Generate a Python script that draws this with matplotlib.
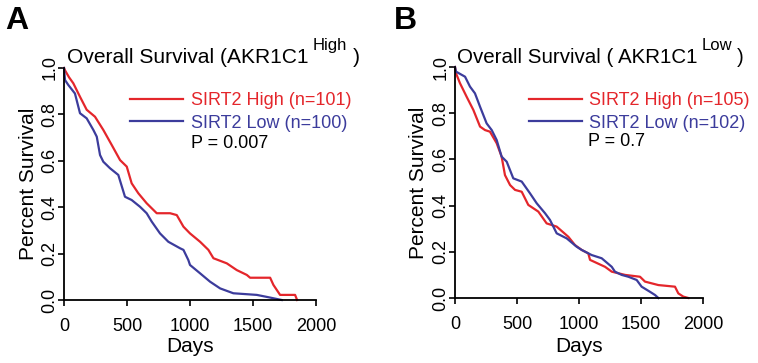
import matplotlib
matplotlib.use("Agg")
import matplotlib.pyplot as plt

plt.rcParams['font.family'] = ['Liberation Sans', 'DejaVu Sans']

RED = '#E4262B'
BLUE = '#3C3C9C'

# Panel A: AKR1C1 high
a_high_days = [0, 8, 40, 74, 127, 180, 246, 312, 379, 445, 498, 537, 590, 656, 736, 842, 895, 948,
               1000, 1080, 1146, 1186, 1292, 1371, 1451, 1477, 1636, 1662, 1715, 1834, 1850]
a_high_surv = [1.0, 0.99, 0.96, 0.934, 0.876, 0.82, 0.79, 0.733, 0.668, 0.603, 0.575, 0.503, 0.46,
               0.417, 0.374, 0.374, 0.366, 0.316, 0.287, 0.251, 0.216, 0.18, 0.158, 0.129, 0.108,
               0.096, 0.096, 0.065, 0.022, 0.022, 0.0]
a_low_days = [0, 8, 34, 87, 127, 180, 233, 260, 286, 312, 365, 431, 484, 537, 603, 656, 696, 762,
              828, 921, 948, 987, 1000, 1080, 1159, 1239, 1344, 1530, 1622, 1728]
a_low_surv = [1.0, 0.948, 0.927, 0.89, 0.805, 0.783, 0.733, 0.704, 0.625, 0.596, 0.568, 0.539,
              0.445, 0.431, 0.402, 0.374, 0.338, 0.287, 0.251, 0.223, 0.216, 0.172, 0.151, 0.115,
              0.079, 0.05, 0.029, 0.022, 0.012, 0.0]

# Panel B: AKR1C1 low
b_high_days = [0, 8, 40, 94, 148, 202, 242, 282, 336, 376, 403, 444, 484, 538, 591, 672, 739, 820,
               914, 968, 1022, 1075, 1089, 1210, 1264, 1371, 1492, 1532, 1640, 1774, 1801, 1841, 1882]
b_high_surv = [1.0, 0.973, 0.93, 0.871, 0.814, 0.742, 0.727, 0.72, 0.67, 0.612, 0.532, 0.489,
               0.468, 0.46, 0.403, 0.374, 0.323, 0.309, 0.265, 0.229, 0.208, 0.193, 0.165, 0.135,
               0.114, 0.1, 0.092, 0.071, 0.056, 0.049, 0.02, 0.006, 0.0]
b_low_days = [0, 8, 81, 121, 161, 202, 255, 296, 336, 376, 417, 470, 538, 605, 659, 726, 766, 820,
              901, 981, 1022, 1102, 1183, 1264, 1290, 1344, 1398, 1465, 1505, 1572, 1613, 1640]
b_low_surv = [1.0, 0.98, 0.958, 0.915, 0.886, 0.828, 0.756, 0.727, 0.684, 0.612, 0.59, 0.518,
              0.504, 0.453, 0.41, 0.367, 0.338, 0.28, 0.258, 0.222, 0.208, 0.186, 0.172, 0.135,
              0.114, 0.1, 0.092, 0.078, 0.049, 0.027, 0.013, 0.0]

x_ticks = [0, 500, 1000, 1500, 2000]
y_ticks = [0.0, 0.2, 0.4, 0.6, 0.8, 1.0]

W, H = 758, 363

panels = [
    dict(letter='A', rect=[64/W, 63/H, 252/W, 232/H],
         title=('Overall Survival (AKR1C1', 'High', ')'), title_x=(67, 310), close_gap=6,
         high=(a_high_days, a_high_surv), low=(a_low_days, a_low_surv),
         labels=('SIRT2 High (n=101)', 'SIRT2 Low (n=100)'), p='P = 0.007',
         letter_x=5, ylab_x=-0.103, xlab_y=-0.16, leg=(0.262, 0.81), p_x=0.502),
    dict(letter='B', rect=[455/W, 65/H, 248/W, 231/H],
         title=('Overall Survival ( AKR1C1', 'Low', ')'), title_x=(457, 698), close_gap=5,
         high=(b_high_days, b_high_surv), low=(b_low_days, b_low_surv),
         labels=('SIRT2 High (n=105)', 'SIRT2 Low (n=102)'), p='P = 0.7',
         letter_x=394, ylab_x=-0.109, xlab_y=-0.169, leg=(0.298, 0.805), p_x=0.536),
]

fig = plt.figure(figsize=(7.58, 3.63), dpi=100)
renderer = fig.canvas.get_renderer()

for pn in panels:
    ax = fig.add_axes(pn['rect'])
    ax.plot(*pn['high'], color=RED, lw=1.6, label=pn['labels'][0], clip_on=False)
    ax.plot(*pn['low'], color=BLUE, lw=1.6, label=pn['labels'][1], clip_on=False)
    ax.set_xlim(0, 2000)
    ax.set_ylim(0, 1.0)
    ax.set_xticks(x_ticks)
    ax.set_yticks(y_ticks)
    ax.set_yticklabels([f'{v:.1f}' for v in y_ticks], rotation=90, va='center')
    ax.tick_params(axis='x', labelsize=13, length=4, width=1.2, pad=9)
    ax.tick_params(axis='y', labelsize=13, length=4, width=1.2, pad=0)
    for s in ['top', 'right']:
        ax.spines[s].set_visible(False)
    for s in ['left', 'bottom']:
        ax.spines[s].set_linewidth(1.3)
    ax.set_xlabel('Days', fontsize=15)
    ax.set_ylabel('Percent Survival', fontsize=15)
    ax.xaxis.set_label_coords(0.5, pn['xlab_y'])
    ax.yaxis.set_label_coords(pn['ylab_x'], 0.5)

    # title: main text sized to span the same width as the reference, then superscript and ')'
    main, sup, close = pn['title']
    x0, x_end = pn['title_x']
    t = fig.text(x0/W, 1 - 63/H, main, fontsize=15, va='baseline', ha='left')
    w = t.get_window_extent(renderer).width
    t.set_fontsize(15 * (x_end - x0) / w)
    end = t.get_window_extent(renderer).x1
    s = fig.text((end + 4)/W, 1 - 50/H, sup, fontsize=12, va='baseline', ha='left')
    s_end = s.get_window_extent(renderer).x1
    fig.text((s_end + pn['close_gap'])/W, 1 - 63/H, close, fontsize=t.get_fontsize(),
             va='baseline', ha='left')

    ax.legend(loc='center left', bbox_to_anchor=pn['leg'], frameon=False, fontsize=13,
              labelcolor='linecolor', handlelength=2.95, handletextpad=0.4,
              labelspacing=0.3, borderpad=0, borderaxespad=0)
    ax.text(pn['p_x'], (300 - 143) / 232, pn['p'], transform=ax.transAxes, fontsize=13,
            va='center', ha='left')
    fig.text(pn['letter_x']/W, 1 - 21/H, pn['letter'], fontsize=23, fontweight='bold',
             va='center', ha='left')

fig.savefig('out.png', dpi=100)
